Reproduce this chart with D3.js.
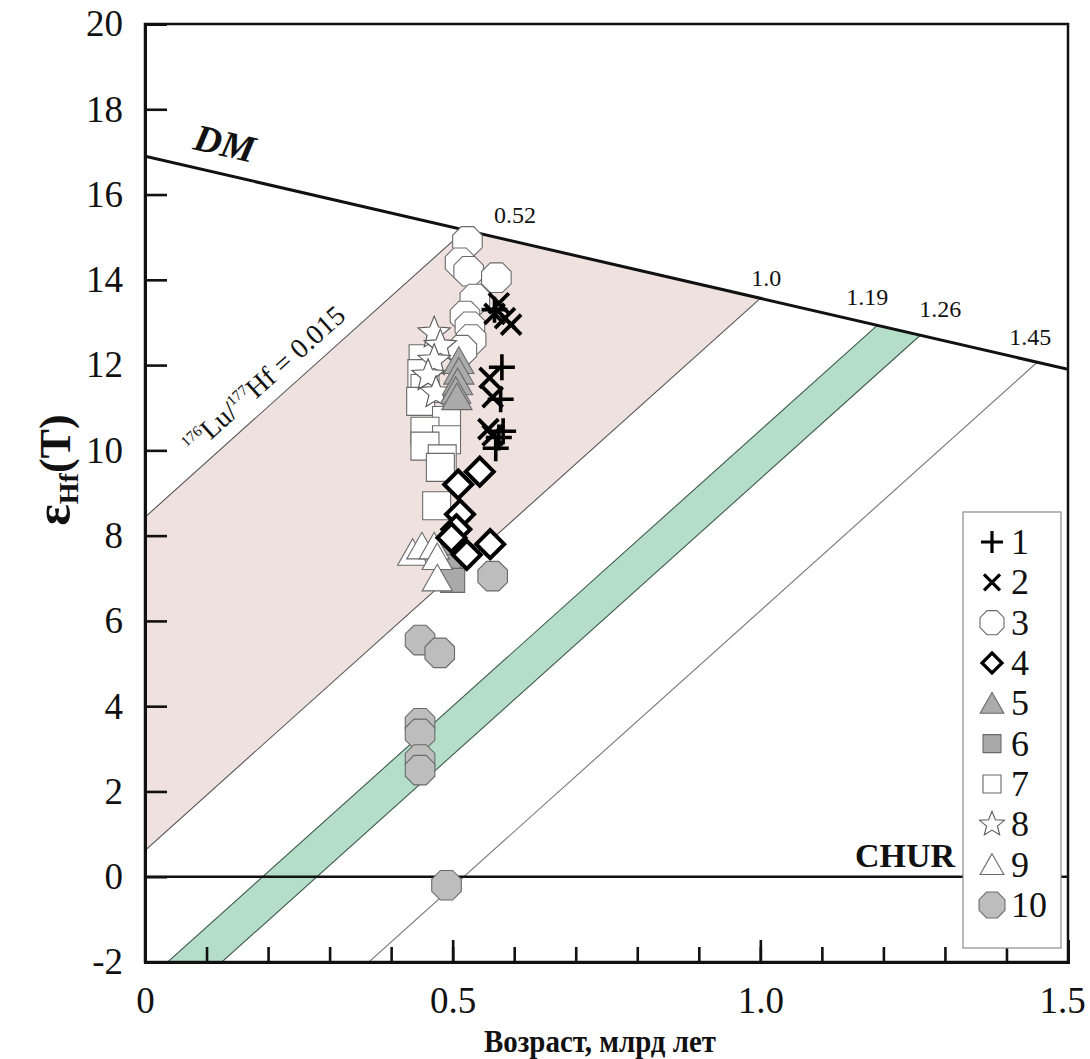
<!DOCTYPE html>
<html>
<head>
<meta charset="utf-8">
<script src="https://cdn.jsdelivr.net/npm/d3@7"></script>
<style>
  body { margin: 0; background: #fff; }
  text { font-family: "Liberation Serif", "Times New Roman", serif; fill: #111; }
</style>
</head>
<body>
<svg id="chart" width="1090" height="1059"></svg>
<script>
// ---- data: [age, Ga ; epsilon Hf(T)] ----
var series1 = [[0.568, 13.3], [0.58, 11.95], [0.578, 11.2], [0.582, 10.45], [0.575, 10.3], [0.57, 10.05]];
var series2 = [[0.575, 13.45], [0.568, 13.2], [0.585, 13.1], [0.595, 12.95], [0.56, 11.7], [0.565, 11.25], [0.558, 10.5], [0.565, 10.35]];
var series3 = [[0.524, 14.9], [0.512, 14.4], [0.526, 14.2], [0.571, 14.05], [0.536, 13.55], [0.52, 13.15], [0.528, 12.9], [0.53, 12.6], [0.515, 12.35]];
var series4 = [[0.544, 9.5], [0.509, 9.2], [0.512, 8.5], [0.506, 8.15], [0.498, 7.95], [0.561, 7.8], [0.523, 7.55]];
var series5 = [[0.51, 12.1], [0.51, 11.85], [0.508, 11.6], [0.505, 11.4], [0.507, 11.25]];
var series6 = [[0.5, 7.45], [0.493, 7.28], [0.5, 6.95]];
var series7 = [[0.452, 12.15], [0.45, 11.8], [0.455, 11.45], [0.448, 11.15], [0.49, 10.7], [0.455, 10.45], [0.49, 10.25], [0.455, 10.1], [0.483, 9.8], [0.48, 9.6], [0.474, 8.7]];
var series8 = [[0.47, 12.75], [0.48, 12.45], [0.47, 12.1], [0.46, 11.75], [0.473, 11.35]];
var series9 = [[0.435, 7.6], [0.45, 7.75], [0.47, 7.75], [0.475, 7.5], [0.475, 7.0]];
var series10 = [[0.447, 5.55], [0.479, 5.25], [0.447, 3.6], [0.447, 3.35], [0.447, 2.75], [0.447, 2.5], [0.49, -0.2], [0.565, 7.05]];

var legendLabels = ["1", "2", "3", "4", "5", "6", "7", "8", "9", "10"];
var xTickLabels = ["0", "0.5", "1.0", "1.5"];
var xTickValues = [0, 0.5, 1.0, 1.5];
var yTickValues = [-2, 0, 2, 4, 6, 8, 10, 12, 14, 16, 18, 20];

// depleted mantle line and Lu/Hf = 0.015 crustal evolution lines
var dmAge = [0, 1.5];
var dmEps = [16.9, 11.9];
var modelAges = [0.52, 1.0, 1.19, 1.26, 1.45];
var modelLabels = ["0.52", "1.0", "1.19", "1.26", "1.45"];
var evoSlope = 12.95; // eps units per Ga for 176Lu/177Hf = 0.015

// ---- layout ----
var svg = d3.select("#chart");
var x = d3.scaleLinear().domain([0, 1.5]).range([145, 1068]);
var y = d3.scaleLinear().domain([-2, 20]).range([962, 24]);

function dm(t) {
  return dmEps[0] + (dmEps[1] - dmEps[0]) * (t - dmAge[0]) / (dmAge[1] - dmAge[0]);
}
function evo(t0, t) { return dm(t0) - evoSlope * (t0 - t); }
function evoAgeAt(t0, eps) { return t0 - (dm(t0) - eps) / evoSlope; }

svg.append("clipPath").attr("id", "plot")
  .append("rect").attr("x", x(0)).attr("y", y(20)).attr("width", x(1.5) - x(0)).attr("height", y(-2) - y(20));

var area = svg.append("g").attr("clip-path", "url(#plot)");
var line = d3.line().x(function (d) { return x(d[0]); }).y(function (d) { return y(d[1]); });

// pink field between 0.52 and 1.0 Ga lines
var pink = [[0, evo(0.52, 0)], [0.52, dm(0.52)], [1.0, dm(1.0)], [0, evo(1.0, 0)]];
area.append("path").attr("d", line(pink) + "Z").attr("fill", "#efe2de");

// green band between 1.19 and 1.26 Ga lines
var green = [[1.19, dm(1.19)], [1.26, dm(1.26)], [evoAgeAt(1.26, -2.5), -2.5], [evoAgeAt(1.19, -2.5), -2.5]];
area.append("path").attr("d", line(green) + "Z").attr("fill", "#b5dec9");

var evoStroke = ["#555", "#555", "#3f5a4c", "#3f5a4c", "#777"];
modelAges.forEach(function (t0, i) {
  area.append("path")
    .attr("d", line([[t0, dm(t0)], [evoAgeAt(t0, -2.5), -2.5]]))
    .attr("fill", "none").attr("stroke", evoStroke[i]).attr("stroke-width", 1.1);
});

// DM and CHUR lines
area.append("path").attr("d", line([[dmAge[0], dmEps[0]], [dmAge[1], dmEps[1]]]))
  .attr("stroke", "#111").attr("stroke-width", 3).attr("fill", "none");
area.append("path").attr("d", line([[0, 0], [1.5, 0]]))
  .attr("stroke", "#111").attr("stroke-width", 2.5).attr("fill", "none");

// ---- axes ----
svg.append("rect").attr("x", x(0)).attr("y", y(20)).attr("width", x(1.5) - x(0)).attr("height", y(-2) - y(20))
  .attr("fill", "none").attr("stroke", "#111").attr("stroke-width", 2.5);

var minorTicks = d3.range(1, 15).map(function (i) { return i / 10; });
var xMinor = svg.append("g").attr("transform", "translate(0," + y(-2) + ")")
  .call(d3.axisBottom(x).tickValues(minorTicks).tickSize(-15).tickFormat(""));
var xMajor = svg.append("g").attr("transform", "translate(0," + y(-2) + ")")
  .call(d3.axisBottom(x).tickValues(xTickValues).tickSize(-22).tickPadding(25)
    .tickFormat(function (d, i) { return xTickLabels[i]; }));
var yAxis = svg.append("g").attr("transform", "translate(" + x(0) + ",0)")
  .call(d3.axisLeft(y).tickValues(yTickValues).tickSize(-22).tickPadding(22).tickFormat(function (d) { return String(d); }));

[xMinor, xMajor, yAxis].forEach(function (g) {
  g.select(".domain").attr("stroke", "#111").attr("stroke-width", 3);
  g.selectAll(".tick line").attr("stroke", "#111").attr("stroke-width", 2.6);
  g.selectAll(".tick text").style("font-size", "37px").style("font-family", "'Liberation Serif', serif").attr("fill", "#111");
});
// keep the last x label inside the page
xMajor.selectAll(".tick text").filter(function (d) { return d === 1.5; }).attr("dx", -6);

// axis titles
svg.append("text").attr("x", 600).attr("y", 1052).attr("text-anchor", "middle")
  .attr("textLength", 232).attr("lengthAdjust", "spacingAndGlyphs")
  .style("font-size", "32px").style("font-weight", "bold").text("Возраст, млрд лет");

var yTitle = svg.append("text").attr("transform", "translate(70,470) rotate(-90)")
  .attr("text-anchor", "middle").style("font-weight", "bold");
yTitle.append("tspan").style("font-size", "50px").text("ε");
yTitle.append("tspan").style("font-size", "28px").attr("dy", 8).text("Hf");
yTitle.append("tspan").style("font-size", "44px").attr("dy", -8).text("(T)");

// line labels
var dmAngle = Math.atan2(y(dmEps[1]) - y(dmEps[0]), x(dmAge[1]) - x(dmAge[0])) * 180 / Math.PI;
svg.append("text")
  .attr("transform", "translate(" + x(0.125) + "," + (y(dm(0.125)) - 18) + ") rotate(" + dmAngle + ")")
  .attr("text-anchor", "middle").style("font-size", "38px").style("font-weight", "bold").style("font-style", "italic")
  .text("DM");
svg.append("text").attr("x", x(1.235)).attr("y", y(0) - 10).attr("text-anchor", "middle")
  .style("font-size", "34px").style("font-weight", "bold").text("CHUR");

var labelOffsets = [[50, -7], [6, -12], [-10, -20], [20, -18], [-7, -17]];
modelAges.forEach(function (t0, i) {
  svg.append("text")
    .attr("x", x(t0) + labelOffsets[i][0]).attr("y", y(dm(t0)) + labelOffsets[i][1])
    .attr("text-anchor", "middle").style("font-size", "24px").text(modelLabels[i]);
});

var evoAngle = Math.atan2(y(evo(0.52, 0.52)) - y(evo(0.52, 0)), x(0.52) - x(0)) * 180 / Math.PI;
var luText = svg.append("text")
  .attr("transform", "translate(" + (x(0.22) - 10) + "," + (y(evo(0.52, 0.22)) - 9) + ") rotate(" + evoAngle + ")")
  .attr("text-anchor", "middle").style("font-size", "28px");
luText.append("tspan").style("font-size", "15px").attr("dy", -11).text("176");
luText.append("tspan").attr("dy", 11).text("Lu/");
luText.append("tspan").style("font-size", "15px").attr("dy", -11).text("177");
luText.append("tspan").attr("dy", 11).text("Hf = 0.015");

// ---- markers ----
function shapePath(kind, s) {
  var pts;
  switch (kind) {
    case "plus": return "M" + (-s) + ",0H" + s + "M0," + (-s) + "V" + s;
    case "cross": return "M" + (-s) + "," + (-s) + "L" + s + "," + s + "M" + (-s) + "," + s + "L" + s + "," + (-s);
    case "diamond": return "M0," + (-s) + "L" + s + ",0L0," + s + "L" + (-s) + ",0Z";
    case "square": return "M" + (-s) + "," + (-s) + "H" + s + "V" + s + "H" + (-s) + "Z";
    case "triangle": return "M0," + (-s) + "L" + (s * 1.08) + "," + (s * 0.9) + "H" + (-s * 1.08) + "Z";
    case "octagon":
      pts = d3.range(8).map(function (k) {
        var a = Math.PI / 8 + k * Math.PI / 4;
        return [s * Math.cos(a), s * Math.sin(a)];
      });
      return d3.line()(pts) + "Z";
    case "star":
      pts = d3.range(10).map(function (k) {
        var a = -Math.PI / 2 + k * Math.PI / 5, r = k % 2 ? s * 0.44 : s;
        return [r * Math.cos(a), r * Math.sin(a)];
      });
      return d3.line()(pts) + "Z";
  }
}

var allSeries = [series1, series2, series3, series4, series5, series6, series7, series8, series9, series10];
var styles = [
  { kind: "plus", size: 13, fill: "none", stroke: "#000", sw: 3.6, lsize: 11 },
  { kind: "cross", size: 10, fill: "none", stroke: "#000", sw: 3.8, lsize: 8 },
  { kind: "octagon", size: 16, fill: "#fff", stroke: "#6a6a6a", sw: 1.1, lsize: 13 },
  { kind: "diamond", size: 14, fill: "#fff", stroke: "#000", sw: 4, lsize: 10 },
  { kind: "triangle", size: 14, fill: "#ababab", stroke: "#6a6a6a", sw: 1.1, lsize: 11 },
  { kind: "square", size: 12, fill: "#a9a9a9", stroke: "#6a6a6a", sw: 1.1, lsize: 9 },
  { kind: "square", size: 14, fill: "#fff", stroke: "#6a6a6a", sw: 1.1, lsize: 9 },
  { kind: "star", size: 17, fill: "#fff", stroke: "#555", sw: 1.1, lsize: 13 },
  { kind: "triangle", size: 14, fill: "#fff", stroke: "#6a6a6a", sw: 1.1, lsize: 11 },
  { kind: "octagon", size: 16, fill: "#bdbdbd", stroke: "#6a6a6a", sw: 1.1, lsize: 14 }
];
var drawOrder = [6, 2, 7, 4, 5, 8, 3, 1, 0, 9];

drawOrder.forEach(function (si) {
  var st = styles[si];
  svg.append("g").selectAll("path").data(allSeries[si]).enter().append("path")
    .attr("transform", function (d) { return "translate(" + x(d[0]) + "," + y(d[1]) + ")"; })
    .attr("d", shapePath(st.kind, st.size))
    .attr("fill", st.fill).attr("stroke", st.stroke).attr("stroke-width", st.sw)
    .attr("stroke-linejoin", "miter");
});

// ---- legend ----
svg.append("rect").attr("x", 963).attr("y", 512).attr("width", 98).attr("height", 436)
  .attr("fill", "#fff").attr("stroke", "#8a8a8a").attr("stroke-width", 1.2);
var ly = d3.scalePoint().domain(legendLabels).range([542, 905]);
var items = svg.append("g").selectAll("g").data(legendLabels).enter().append("g")
  .attr("transform", function (d) { return "translate(0," + ly(d) + ")"; });
items.append("path")
  .attr("transform", "translate(992,0)")
  .attr("d", function (d, i) { return shapePath(styles[i].kind, styles[i].lsize); })
  .attr("fill", function (d, i) { return styles[i].fill; })
  .attr("stroke", function (d, i) { return styles[i].stroke; })
  .attr("stroke-width", function (d, i) { return i < 4 ? Math.min(styles[i].sw, 3.2) : styles[i].sw; });
items.append("text").attr("x", 1011).attr("y", 12).style("font-size", "36px").text(function (d) { return d; });
</script>
</body>
</html>
